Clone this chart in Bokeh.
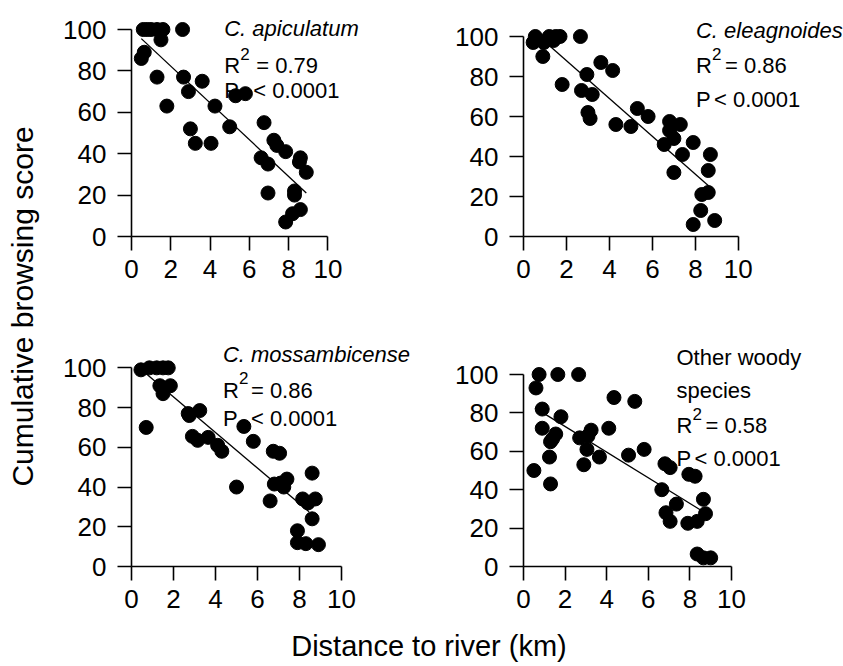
import math
from bokeh.plotting import figure
from bokeh.layouts import row, column
from bokeh.models import Label, FixedTicker, Range1d
from bokeh.embed import file_html
from bokeh.resources import INLINE

FONT = "Liberation Sans"

# ---------------- data ----------------
x_ticks = [0, 2, 4, 6, 8, 10]
y_ticks = [0, 20, 40, 60, 80, 100]

x1 = [0.6, 0.8, 1.0, 1.3, 1.6, 1.5, 2.6, 0.65, 0.5, 1.3, 1.8, 2.65, 2.9, 3.6, 3.0, 3.25, 4.05,
      4.25, 5.0, 5.3, 5.8, 6.75, 7.25, 7.4, 7.85, 6.6, 6.95, 6.95, 8.6, 8.55, 8.9, 8.3, 8.3, 8.6, 8.2, 7.85]
y1 = [100, 100, 100, 100, 100, 95, 100, 89, 86, 77, 63, 77, 70, 75, 52, 45, 45,
      63, 53, 68, 69, 55, 46.5, 44, 41, 38, 35, 21, 38, 36, 31, 22, 20, 13, 11, 7]
fit1_x = [0.5, 8.9]
fit1_y = [95.6, 21]

x2 = [0.55, 0.45, 0.95, 1.2, 1.5, 1.7, 1.4, 2.65, 0.9, 3.6, 4.15, 2.95, 1.8, 2.7, 3.2, 3.0, 3.1, 4.3,
      5.0, 5.3, 5.8, 6.8, 7.3, 6.8, 7.0, 6.55, 7.9, 7.4, 8.7, 8.6, 7.0, 8.3, 8.6, 8.25, 8.9, 7.9]
y2 = [100, 97, 97, 100, 100, 100, 98, 100, 90, 87, 83, 81, 76, 73, 71, 62, 59, 56,
      55, 64, 60, 57.5, 56, 53, 49, 46, 47, 41, 41, 33, 32, 21, 22, 13, 8, 6]
fit2_x = [1.25, 8.65]
fit2_y = [95, 25]

x3 = [0.45, 0.85, 1.2, 1.5, 1.75, 1.35, 1.5, 1.85, 0.7, 2.7, 2.75, 3.25, 2.9, 3.15, 3.65, 4.1, 4.3, 5.0,
      5.35, 5.8, 6.75, 7.05, 6.6, 6.8, 7.1, 7.4, 7.25, 8.6, 8.15, 8.4, 8.75, 8.6, 7.9, 7.9, 8.3, 8.9]
y3 = [99, 100, 100, 100, 100, 91, 87, 91, 70, 77, 76, 78.5, 65.5, 63.5, 65, 61, 58, 40,
      70.5, 63, 58, 57, 33, 41.5, 42, 44, 40, 47, 34, 32, 34, 24, 18, 12, 11.5, 11]
fit3_x = [0.7, 8.45]
fit3_y = [97, 27.6]

x4 = [0.75, 1.65, 2.65, 0.6, 0.9, 1.8, 0.9, 1.55, 1.4, 1.3, 1.25, 0.5, 1.3, 2.7, 3.25, 3.1, 3.05, 2.9,
      3.65, 4.1, 4.35, 5.35, 5.05, 5.8, 6.8, 7.05, 6.65, 7.35, 6.85, 7.05, 7.95, 8.25, 8.65, 7.9, 8.35,
      8.75, 8.35, 8.65, 9.0]
y4 = [100, 100, 100, 93, 82, 78, 72, 69, 66.5, 65, 57, 50, 43, 67, 71, 68, 61, 53,
      57, 72, 88, 86, 58, 61, 53.5, 51.5, 40, 32.5, 28, 23.5, 48, 47, 35, 22.5, 23.5,
      27.5, 6.5, 4.5, 4.5]
fit4_x = [0.55, 8.55]
fit4_y = [82.6, 29.2]

titles = [["C. apiculatum"], ["C. eleagnoides"], ["C. mossambicense"], ["Other woody", "species"]]
title_italic = [True, True, True, False]
r2_text = ["= 0.79", "= 0.86", "= 0.86", "= 0.58"]
p_text = "< 0.0001"

# ---------------- layout geometry ----------------
# (canvas w, canvas h, border left, border bottom, px per x unit, px per y unit)
geo = [
    (392, 300, 70, 64, 19.7, 2.07),
    (391, 300, 70, 64, 21.55, 2.0),
    (392, 324, 70, 57, 21.07, 1.994),
    (391, 324, 71, 58, 20.8, 1.92),
]
# annotation anchors in pixels from frame-left / frame-bottom
ann = [
    dict(left=93, tb=[207.7], rb=171, pb=146, eq=32, lt=29),
    dict(left=173, tb=[206], rb=171, pb=137, eq=29, lt=18),
    dict(left=91.7, tb=[212.4], rb=176.7, pb=148.4, eq=28, lt=28),
    dict(left=153, tb=[209.3, 176], rb=141, pb=107.7, eq=29, lt=18),
]


def make_panel(i, xs, ys, fx, fy):
    W, H, bl, bb, sx, sy = geo[i]
    fw, fh = W - bl, H - bb
    p = figure(width=W, height=H, x_range=Range1d(0, fw / sx), y_range=Range1d(0, fh / sy),
               output_backend="svg", toolbar_location=None,
               min_border_left=bl, min_border_right=0, min_border_top=0, min_border_bottom=bb)
    p.xgrid.visible = False
    p.ygrid.visible = False
    p.outline_line_color = None
    p.background_fill_color = "white"
    p.border_fill_color = "white"
    for ax, ticks, bounds, standoff in ((p.xaxis, x_ticks, (0, 10), 9), (p.yaxis, y_ticks, (0, 100), 11)):
        ax.ticker = FixedTicker(ticks=ticks)
        ax.bounds = bounds
        ax.axis_line_color = "black"
        ax.axis_line_width = 1.6
        ax.major_tick_line_color = "black"
        ax.major_tick_line_width = 1.6
        ax.major_tick_out = 14
        ax.major_tick_in = 0
        ax.minor_tick_line_color = None
        ax.major_label_text_font = FONT
        ax.major_label_text_font_size = "26px"
        ax.major_label_text_color = "black"
        ax.major_label_standoff = standoff
    p.line(fx, fy, line_color="black", line_width=1.3)
    p.scatter(xs, ys, size=14, color="black", line_color="black")

    a = ann[i]

    def lab(px, py, text, size=22, style="normal", xo=0, yo=0):
        p.add_layout(Label(x=px / sx, y=py / sy, x_offset=xo, y_offset=yo, text=text,
                           text_font=FONT, text_font_size=f"{size}px", text_font_style=style,
                           text_color="black", text_baseline="alphabetic", text_align="left"))
    for t, b in zip(titles[i], a["tb"]):
        lab(a["left"], b, t, style="italic" if title_italic[i] else "normal")
    lab(a["left"], a["rb"], "R")
    lab(a["left"], a["rb"], "2", size=17, xo=16, yo=12)
    lab(a["left"], a["rb"], r2_text[i], xo=a["eq"])
    lab(a["left"], a["pb"], "P")
    lab(a["left"], a["pb"], p_text, xo=a["lt"])
    return p


p1 = make_panel(0, x1, y1, fit1_x, fit1_y)
p2 = make_panel(1, x2, y2, fit2_x, fit2_y)
p3 = make_panel(2, x3, y3, fit3_x, fit3_y)
p4 = make_panel(3, x4, y4, fit4_x, fit4_y)


def blank(w, h):
    f = figure(width=w, height=h, x_range=Range1d(0, w), y_range=Range1d(0, h),
               output_backend="svg", toolbar_location=None,
               min_border_left=0, min_border_right=0, min_border_top=0, min_border_bottom=0)
    f.axis.visible = False
    f.grid.visible = False
    f.outline_line_color = None
    return f


ylab = blank(60, 624)
ylab.add_layout(Label(x=22, y=318, text="Cumulative browsing score", angle=math.pi / 2,
                      text_font=FONT, text_font_size="30px", text_color="black",
                      text_align="center", text_baseline="middle"))
xlab = blank(843, 42)
xlab.add_layout(Label(x=428.5, y=21, text="Distance to river (km)",
                      text_font=FONT, text_font_size="29px", text_color="black",
                      text_align="center", text_baseline="middle"))

layout = column(row(ylab, column(row(p1, p2), row(p3, p4))), xlab)

open("out.html", "w").write(file_html(layout, INLINE))
